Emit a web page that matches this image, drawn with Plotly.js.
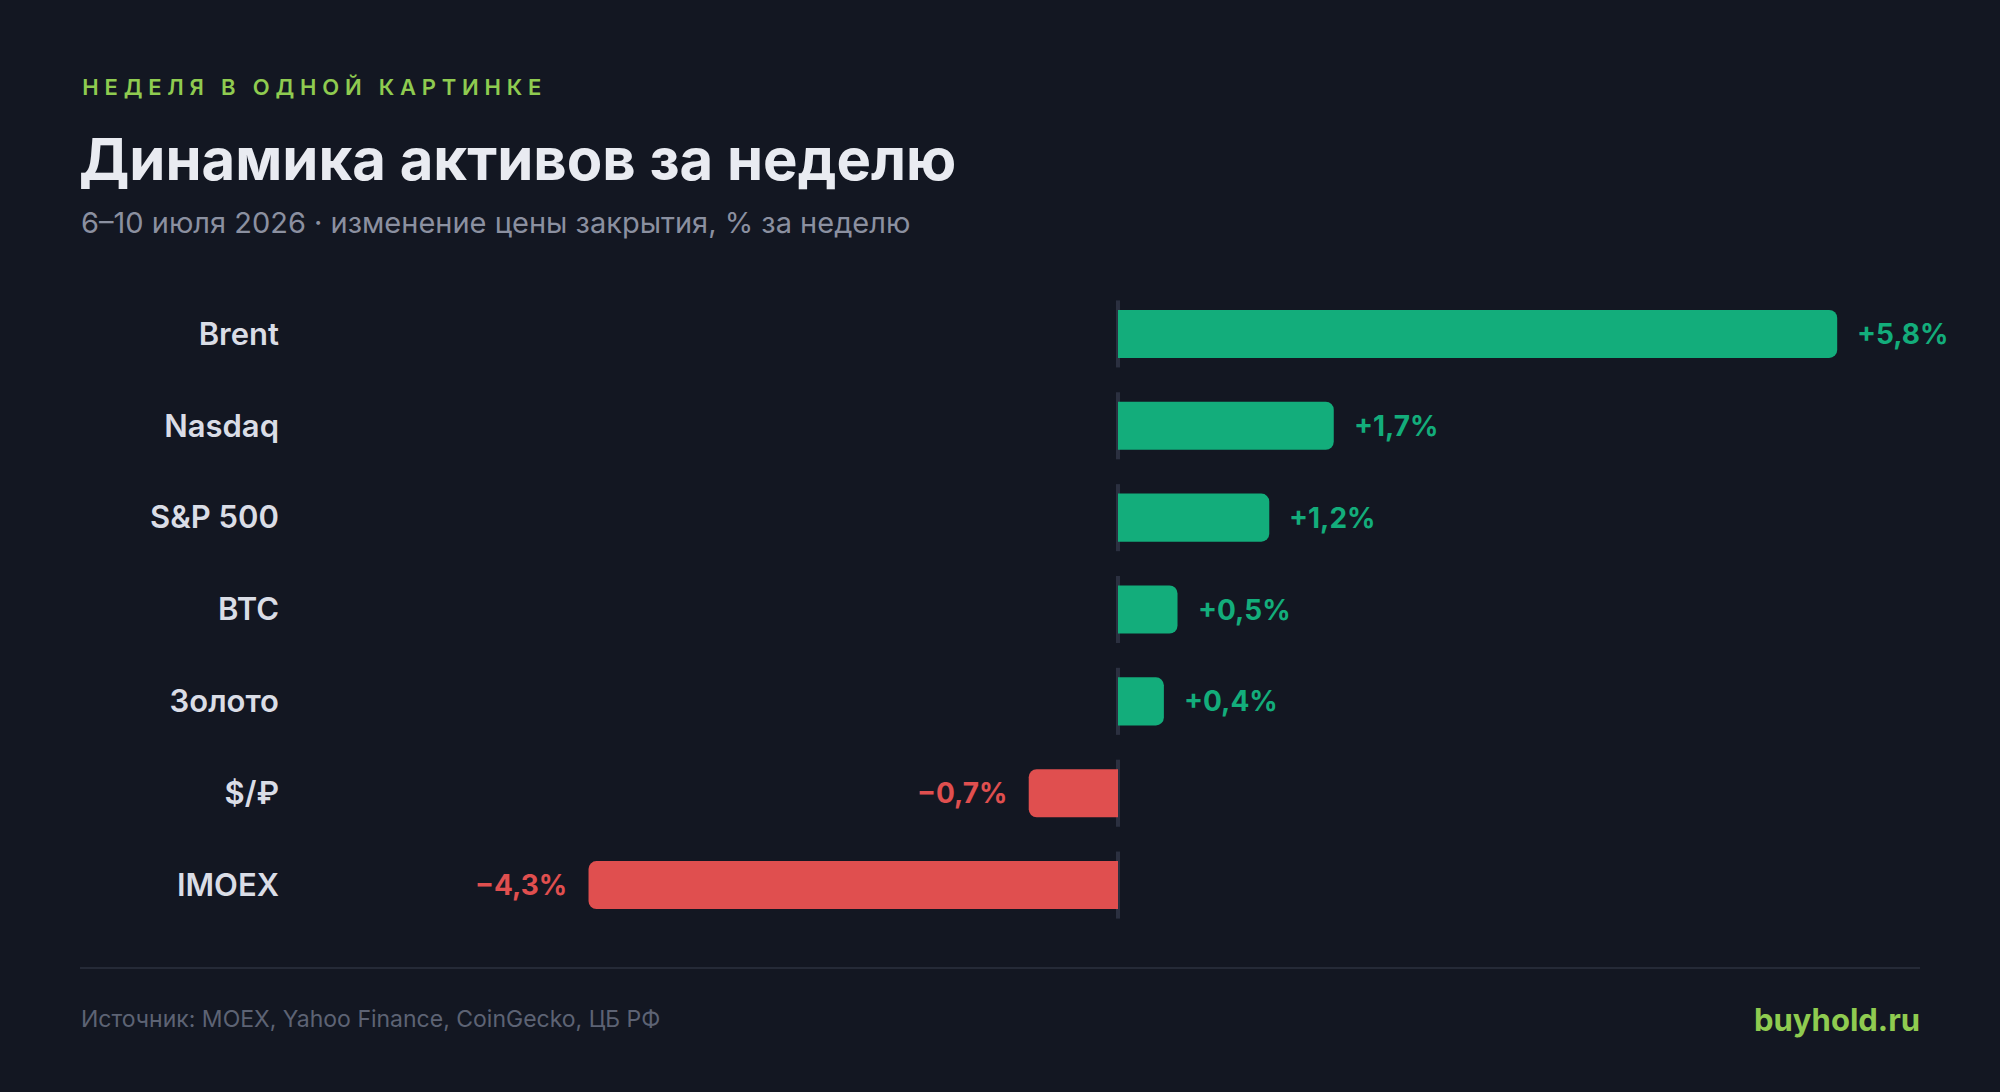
<!DOCTYPE html>
<html>
<head>
<meta charset="utf-8">
<script src="https://cdn.plot.ly/plotly-3.0.1.min.js"></script>
<style>
  html, body { margin: 0; padding: 0; background: #131722; }
  #chart { width: 2000px; height: 1092px; }
  .annotation[data-index="0"] text { letter-spacing: 5.8px; }
</style>
</head>
<body>
<div id="chart"></div>
<script>
// ---- data ----
const categories = ["Brent", "Nasdaq", "S&P 500", "BTC", "Золото", "$/₽", "IMOEX"];
const changes = [5.8, 1.74, 1.22, 0.48, 0.37, -0.72, -4.27];
const valueLabels = ["+5,8%", "+1,7%", "+1,2%", "+0,5%", "+0,4%", "−0,7%", "−4,3%"];

const kicker = "НЕДЕЛЯ В ОДНОЙ КАРТИНКЕ";
const titleText = "Динамика активов за неделю";
const subtitleText = "6–10 июля 2026 · изменение цены закрытия, % за неделю";
const sourceText = "Источник: MOEX, Yahoo Finance, CoinGecko, ЦБ РФ";
const brandText = "buyhold.ru";

// ---- style ----
const W = 2000, H = 1092;
const M = {l: 290, r: 70, t: 288, b: 161};
const PW = W - M.l - M.r, PH = H - M.t - M.b;
const GREEN = "#13ad7b", RED = "#e04f4f";
const FONT = "Inter, 'Noto Sans', sans-serif";
const px2x = p => (p - M.l) / PW;
const py2y = p => (H - M.b - p) / PH;
const KICKER_LS = 5.8;

const colors = changes.map(v => v >= 0 ? GREEN : RED);

const trace = {
  type: "bar",
  orientation: "h",
  y: categories,
  x: changes,
  marker: {color: colors, cornerradius: 8},
  width: 0.523,
  hoverinfo: "skip"
};

const annotations = [
  {text: kicker, xref: "paper", yref: "paper", x: px2x(80), y: py2y(87), xanchor: "left", yanchor: "middle",
   xshift: kicker.length * KICKER_LS / 2,
   showarrow: false, font: {family: FONT, size: 22, color: "#8fcb50", weight: 600}},
  {text: "<b>" + titleText + "</b>", xref: "paper", yref: "paper", x: px2x(77), y: py2y(159), xanchor: "left", yanchor: "middle",
   showarrow: false, font: {family: FONT, size: 58, color: "#e9ebf1"}},
  {text: subtitleText, xref: "paper", yref: "paper", x: px2x(79), y: py2y(223), xanchor: "left", yanchor: "middle",
   showarrow: false, font: {family: FONT, size: 29, color: "#8b90a0"}},
  {text: sourceText, xref: "paper", yref: "paper", x: px2x(79), y: py2y(1019), xanchor: "left", yanchor: "middle",
   showarrow: false, font: {family: FONT, size: 23, color: "#5d6374"}},
  {text: "<b>" + brandText + "</b>", xref: "paper", yref: "paper", x: px2x(1922), y: py2y(1019), xanchor: "right", yanchor: "middle",
   showarrow: false, font: {family: FONT, size: 31, color: "#8fcb50"}}
];

categories.forEach((c, i) => {
  const v = changes[i];
  annotations.push({
    text: "<b>" + valueLabels[i] + "</b>", x: v, y: c, xref: "x", yref: "y",
    xanchor: v >= 0 ? "left" : "right", yanchor: "middle",
    xshift: v >= 0 ? 18 : -20, showarrow: false,
    font: {family: FONT, size: 28, color: colors[i]}
  });
});

const shapes = categories.map((c, i) => ({
  type: "line", xref: "x", yref: "y", x0: 0, x1: 0, y0: i - 0.365, y1: i + 0.365,
  line: {color: "#2b3040", width: 4}, layer: "below"
}));
shapes.push({type: "line", xref: "paper", yref: "paper", x0: px2x(80), x1: px2x(1920), y0: py2y(968), y1: py2y(968),
  line: {color: "#252a37", width: 2}});

const layout = {
  width: W, height: H,
  paper_bgcolor: "#131722", plot_bgcolor: "#131722",
  margin: M,
  showlegend: false,
  xaxis: {range: [(M.l - 1118) / 124, (W - M.r - 1118) / 124], showgrid: false, zeroline: false,
          showticklabels: false, ticks: "", fixedrange: true},
  yaxis: {type: "category", range: [6.5, -0.5], showgrid: false, zeroline: false, ticks: "",
          ticklabelstandoff: 10, automargin: false,
          tickfont: {family: FONT, size: 31, color: "#dadde6", weight: 600}},
  annotations: annotations,
  shapes: shapes,
  font: {family: FONT}
};

Plotly.newPlot("chart", [trace], layout, {displayModeBar: false, staticPlot: true});
</script>
</body>
</html>
